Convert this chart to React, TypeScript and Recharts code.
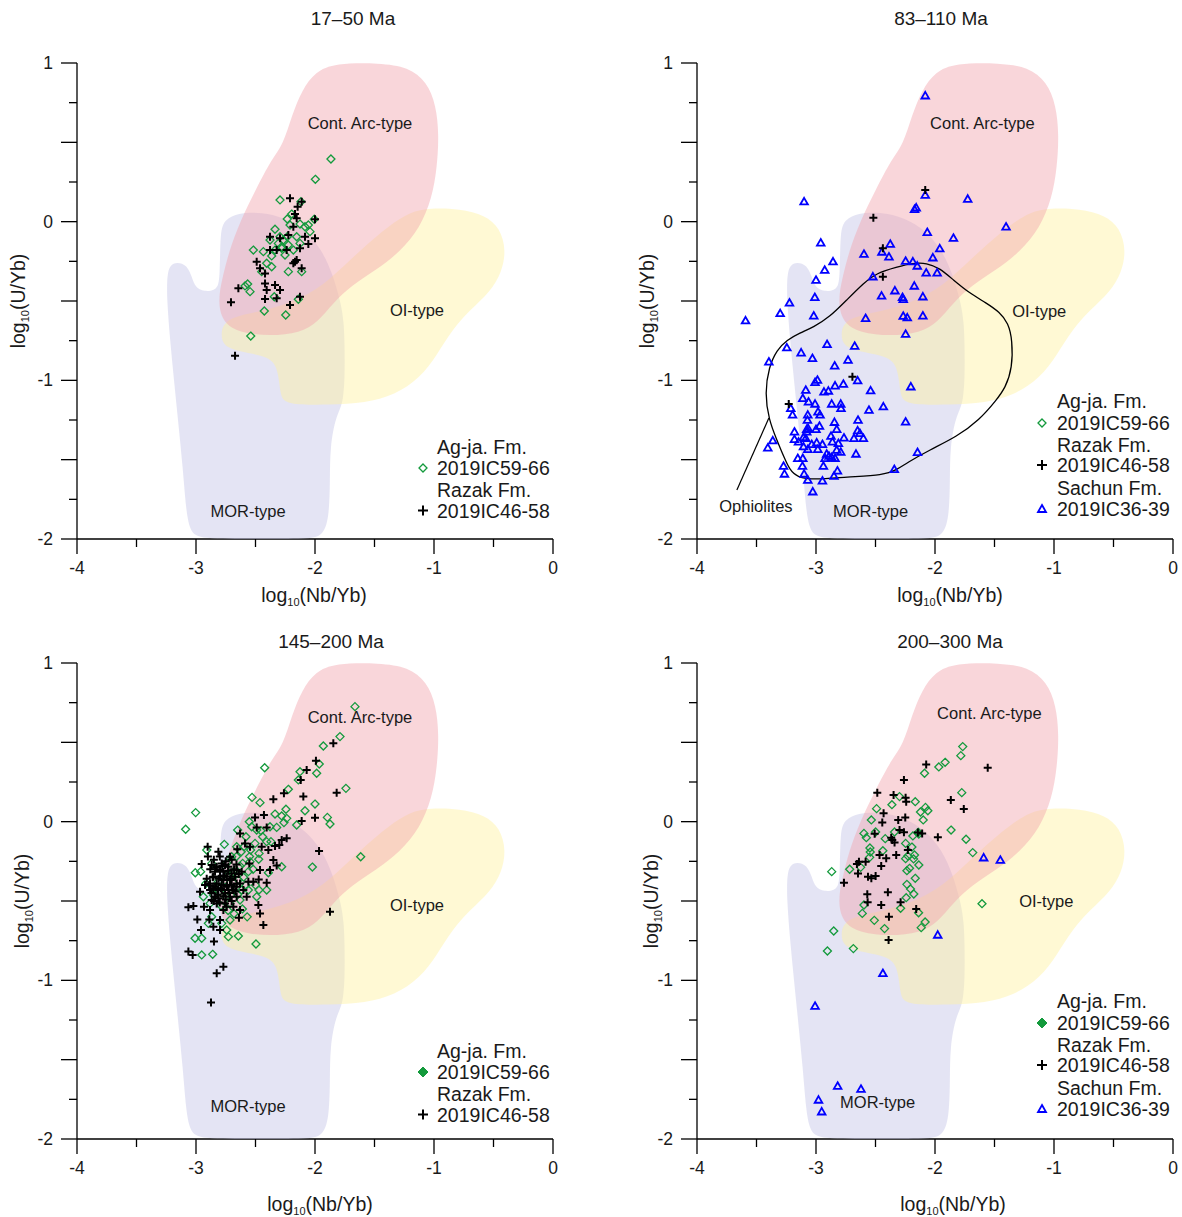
import React from 'react';
import { ScatterChart, Scatter, XAxis, YAxis } from 'recharts';

type P = [number, number];

// ---------- tick values ----------
const X_TICKS = [-4, -3.5, -3, -2.5, -2, -1.5, -1, -0.5, 0];
const Y_TICKS = [-2, -1.75, -1.5, -1.25, -1, -0.75, -0.5, -0.25, 0, 0.25, 0.5, 0.75, 1];

// ---------- discrimination fields (log Nb/Yb, log U/Yb) ----------
const MOR_FIELD: P[] = [
  [-3.16, -0.254], [-3.076, -0.273], [-3.034, -0.349], [-3.008, -0.412], [-2.933, -0.443], [-2.824, -0.431],
  [-2.798, -0.368], [-2.798, -0.052], [-2.756, 0.011], [-2.655, 0.055], [-2.445, 0.061], [-2.252, 0.023],
  [-2.084, -0.052], [-1.941, -0.179], [-1.849, -0.336], [-1.79, -0.494], [-1.756, -0.62], [-1.748, -0.872],
  [-1.756, -1.143], [-1.824, -1.22], [-1.874, -1.42], [-1.874, -1.628], [-1.882, -1.88], [-1.941, -1.98],
  [-2.042, -2.0], [-2.5, -2.0], [-2.966, -2.0], [-3.05, -1.955], [-3.084, -1.817], [-3.109, -1.565],
  [-3.151, -1.25], [-3.185, -0.998], [-3.218, -0.746], [-3.244, -0.494], [-3.244, -0.336], [-3.218, -0.273],
];
const OI_FIELD: P[] = [
  [-1.034, 0.086], [-0.782, 0.08], [-0.571, 0.042], [-0.445, -0.04], [-0.395, -0.179], [-0.429, -0.317],
  [-0.529, -0.443], [-0.697, -0.557], [-0.849, -0.683], [-0.975, -0.84], [-1.118, -0.985], [-1.328, -1.092],
  [-1.58, -1.143], [-1.874, -1.155], [-2.252, -1.155], [-2.294, -1.092], [-2.311, -0.903], [-2.42, -0.84],
  [-2.756, -0.809], [-2.798, -0.714], [-2.756, -0.607], [-2.462, -0.569], [-2.126, -0.494], [-1.874, -0.368],
  [-1.622, -0.179], [-1.37, -0.021], [-1.202, 0.061],
];
const ARC_FIELD: P[] = [
  [-1.832, 1.0], [-1.454, 1.0], [-1.218, 0.975], [-1.059, 0.88], [-0.983, 0.735], [-0.958, 0.546],
  [-0.975, 0.338], [-1.017, 0.149], [-1.118, -0.04], [-1.286, -0.191], [-1.487, -0.305], [-1.689, -0.399],
  [-1.849, -0.513], [-1.975, -0.632], [-2.126, -0.702], [-2.378, -0.721], [-2.63, -0.702], [-2.782, -0.632],
  [-2.815, -0.494], [-2.78, -0.36], [-2.72, -0.18], [-2.63, 0.0], [-2.5, 0.2], [-2.36, 0.4],
  [-2.269, 0.483], [-2.193, 0.672], [-2.109, 0.83], [-2.0, 0.943],
];
const OPHIOLITE_FIELD: P[] = [
  [-3.396, -1.25], [-3.43, -1.08], [-3.396, -0.916], [-3.329, -0.809], [-3.245, -0.746], [-3.136, -0.702],
  [-3.019, -0.664], [-2.885, -0.601], [-2.742, -0.494], [-2.6, -0.387], [-2.491, -0.324], [-2.323, -0.286],
  [-2.18, -0.26], [-2.071, -0.26], [-1.962, -0.292], [-1.845, -0.368], [-1.711, -0.45], [-1.568, -0.513],
  [-1.459, -0.569], [-1.384, -0.639], [-1.35, -0.746], [-1.35, -0.922], [-1.409, -1.048], [-1.484, -1.124],
  [-1.627, -1.25], [-1.82, -1.357], [-2.046, -1.439], [-2.239, -1.521], [-2.323, -1.565], [-2.432, -1.597],
  [-2.742, -1.609], [-3.019, -1.628], [-3.161, -1.609], [-3.22, -1.565], [-3.27, -1.483], [-3.329, -1.376],
];
const OPHIOLITE_LEADER: P[] = [[-3.665, -1.691], [-3.396, -1.237]];

// ---------- panel 1 : 17-50 Ma ----------
const P1_AGJA: P[] = [
  [-1.866, 0.395], [-1.997, 0.267], [-2.294, 0.137], [-2.118, 0.126], [-2.196, 0.048], [-2.233, 0.017],
  [-2.126, -0.015], [-2.056, -0.021], [-2.006, 0.015], [-2.042, -0.063], [-2.336, -0.048], [-2.378, -0.116],
  [-2.294, -0.095], [-2.266, -0.116], [-2.233, -0.095], [-2.154, -0.095], [-2.224, -0.147], [-2.28, -0.168],
  [-2.336, -0.179], [-2.518, -0.179], [-2.364, -0.216], [-2.252, -0.21], [-2.182, -0.179], [-2.126, -0.137],
  [-2.434, -0.189], [-2.406, -0.262], [-2.364, -0.284], [-2.448, -0.315], [-2.224, -0.315], [-2.112, -0.315],
  [-2.588, -0.405], [-2.566, -0.393], [-2.546, -0.441], [-2.342, -0.473], [-2.14, -0.489], [-2.426, -0.563],
  [-2.246, -0.588], [-2.54, -0.721], [-2.28, -0.158], [-2.308, -0.137], [-2.21, -0.021], [-2.084, -0.032],
];
const P1_RAZAK: P[] = [
  [-2.21, 0.147], [-2.112, 0.126], [-2.146, 0.094], [-2.168, 0.048], [-2.154, 0.021], [-2.182, -0.032],
  [-2.0, 0.015], [-2.084, -0.095], [-2.0, -0.105], [-2.056, -0.141], [-2.378, -0.095], [-2.224, -0.084],
  [-2.294, -0.105], [-2.126, -0.168], [-2.378, -0.179], [-2.238, -0.179], [-2.322, -0.179], [-2.49, -0.252],
  [-2.462, -0.294], [-2.154, -0.242], [-2.168, -0.252], [-2.112, -0.294], [-2.42, -0.326], [-2.42, -0.389],
  [-2.336, -0.399], [-2.294, -0.431], [-2.406, -0.431], [-2.644, -0.42], [-2.706, -0.508], [-2.42, -0.487],
  [-2.322, -0.483], [-2.21, -0.525], [-2.126, -0.473], [-2.672, -0.845], [-2.182, -0.262],
];

// ---------- panel 2 : 83-110 Ma ----------
const P2_RAZAK: P[] = [
  [-2.082, 0.2], [-2.518, 0.025], [-2.438, -0.168], [-2.438, -0.347], [-2.694, -0.977], [-3.229, -1.149],
];
const P2_SACHUN: P[] = [
  [-2.082, 0.794], [-3.1, 0.126], [-2.082, 0.168], [-1.725, 0.143], [-2.172, 0.078], [-2.158, 0.088],
  [-1.403, -0.032], [-2.96, -0.133], [-2.065, -0.067], [-1.845, -0.103], [-2.376, -0.141], [-2.597, -0.204],
  [-2.446, -0.191], [-2.387, -0.221], [-1.96, -0.17], [-2.018, -0.227], [-2.857, -0.252], [-2.247, -0.248],
  [-2.186, -0.252], [-2.149, -0.279], [-2.927, -0.305], [-2.074, -0.322], [-1.982, -0.322], [-2.522, -0.347],
  [-3.0, -0.368], [-2.174, -0.405], [-2.337, -0.435], [-2.273, -0.477], [-2.267, -0.489], [-2.102, -0.473],
  [-2.449, -0.468], [-3.01, -0.477], [-3.223, -0.511], [-3.301, -0.578], [-3.019, -0.593], [-3.592, -0.624],
  [-2.583, -0.609], [-2.267, -0.595], [-2.233, -0.605], [-2.102, -0.593], [-2.247, -0.708], [-2.907, -0.773],
  [-2.675, -0.784], [-3.245, -0.794], [-3.125, -0.826], [-3.03, -0.861], [-2.731, -0.872], [-3.396, -0.883],
  [-2.843, -0.908], [-2.65, -1.002], [-2.988, -0.998], [-3.008, -1.012], [-2.77, -1.023], [-2.84, -1.034],
  [-2.203, -1.04], [-3.086, -1.061], [-2.896, -1.067], [-2.933, -1.073], [-2.541, -1.065], [-3.111, -1.113],
  [-3.063, -1.135], [-3.008, -1.149], [-2.868, -1.149], [-2.792, -1.149], [-2.79, -1.176], [-3.212, -1.176],
  [-3.197, -1.218], [-2.555, -1.187], [-2.434, -1.166], [-2.983, -1.198], [-2.966, -1.218], [-3.069, -1.218],
  [-3.072, -1.25], [-2.845, -1.264], [-2.647, -1.25], [-2.247, -1.261], [-2.971, -1.288], [-3.067, -1.302],
  [-3.078, -1.309], [-2.826, -1.309], [-3.181, -1.324], [-3.078, -1.324], [-3.0, -1.309], [-2.65, -1.317],
  [-2.631, -1.334], [-2.602, -1.365], [-2.874, -1.351], [-3.181, -1.372], [-3.105, -1.359], [-3.086, -1.365],
  [-2.765, -1.362], [-2.681, -1.365], [-3.363, -1.38], [-3.147, -1.387], [-2.994, -1.393], [-3.036, -1.403],
  [-2.946, -1.403], [-2.862, -1.387], [-2.812, -1.397], [-3.405, -1.425], [-3.105, -1.418], [-3.069, -1.435],
  [-2.985, -1.435], [-2.826, -1.439], [-2.792, -1.452], [-2.91, -1.464], [-2.891, -1.477], [-2.664, -1.464],
  [-2.147, -1.454], [-2.868, -1.485], [-2.924, -1.491], [-2.84, -1.491], [-3.153, -1.491], [-3.111, -1.491],
  [-3.273, -1.54], [-3.114, -1.54], [-2.938, -1.54], [-2.342, -1.561], [-2.82, -1.57], [-3.265, -1.59],
  [-3.1, -1.59], [-2.849, -1.603], [-3.069, -1.628], [-2.946, -1.633], [-3.027, -1.702],
];

// ---------- panel 3 : 145-200 Ma ----------
const P3_AGJA: P[] = [
  [-1.664, 0.725], [-1.79, 0.536], [-1.93, 0.477], [-1.964, 0.363], [-1.986, 0.305], [-2.126, 0.315],
  [-2.14, 0.263], [-2.423, 0.34], [-1.74, 0.21], [-2.224, 0.204], [-2.529, 0.153], [-2.462, 0.12],
  [-2.0, 0.111], [-2.084, 0.069], [-2.244, 0.078], [-2.238, 0.021], [-2.28, 0.036], [-2.336, 0.048],
  [-2.154, -0.021], [-2.261, -0.006], [-1.896, 0.027], [-1.874, -0.015], [-2.378, -0.032], [-2.532, -0.032],
  [-2.49, -0.053], [-2.552, 0.0], [-2.65, -0.053], [-2.762, -0.143], [-3.003, 0.057], [-3.087, -0.048],
  [-2.454, -0.057], [-2.44, -0.095], [-2.322, -0.036], [-2.406, -0.126], [-2.504, -0.137], [-2.541, -0.179],
  [-2.597, -0.158], [-1.616, -0.221], [-2.022, -0.286], [-2.28, -0.284], [-2.37, -0.126], [-2.473, -0.237],
  [-2.392, -0.322], [-2.406, -0.431], [-2.471, -0.431], [-2.49, -0.473], [-2.546, -0.252], [-2.608, -0.263],
  [-2.56, -0.315], [-2.644, -0.368], [-2.686, -0.315], [-2.616, -0.431], [-2.56, -0.431], [-2.63, -0.494],
  [-2.714, -0.515], [-2.748, -0.473], [-2.804, -0.441], [-2.854, -0.462], [-2.882, -0.515], [-2.938, -0.473],
  [-2.868, -0.599], [-2.896, -0.641], [-2.784, -0.641], [-2.714, -0.62], [-2.742, -0.683], [-2.728, -0.725],
  [-2.644, -0.721], [-2.952, -0.735], [-3.008, -0.735], [-2.952, -0.84], [-2.86, -0.836], [-2.496, -0.771],
  [-2.961, -0.315], [-3.006, -0.322], [-2.868, -0.263], [-2.91, -0.179], [-2.748, -0.305], [-2.812, -0.378],
  [-2.916, -0.389], [-2.658, -0.158], [-2.58, -0.095], [-2.7, -0.221],
  [-2.74, -0.26], [-2.69, -0.33], [-2.63, -0.28], [-2.66, -0.22], [-2.6, -0.35], [-2.71, -0.41],
  [-2.76, -0.37], [-2.65, -0.46], [-2.58, -0.4], [-2.62, -0.19], [-2.55, -0.22], [-2.68, -0.58],
  [-2.73, -0.56], [-2.79, -0.53], [-2.61, -0.55], [-2.52, -0.3], [-2.5, -0.4], [-2.47, -0.2], [-2.57, -0.6],
];
const P3_RAZAK: P[] = [
  [-1.846, 0.494], [-1.992, 0.384], [-2.07, 0.326], [-2.12, 0.263], [-2.098, 0.158], [-1.818, 0.183],
  [-2.261, 0.179], [-2.35, 0.141], [-2.0, 0.025], [-2.112, 0.004], [-2.429, 0.042], [-2.504, 0.027],
  [-2.406, -0.036], [-2.49, -0.036], [-2.63, -0.074], [-2.28, -0.116], [-2.238, -0.105], [-2.3, -0.147],
  [-2.336, -0.153], [-2.392, -0.179], [-2.448, -0.158], [-2.546, -0.158], [-2.588, -0.137], [-2.653, -0.174],
  [-1.966, -0.185], [-2.35, -0.242], [-2.378, -0.305], [-2.322, -0.277], [-2.462, -0.305], [-2.473, -0.364],
  [-2.518, -0.378], [-2.406, -0.385], [-2.56, -0.378], [-2.552, -0.263], [-2.902, -0.158], [-2.812, -0.189],
  [-2.714, -0.221], [-2.784, -0.263], [-2.868, -0.273], [-2.952, -0.267], [-2.616, -0.315], [-2.7, -0.326],
  [-2.798, -0.305], [-2.854, -0.347], [-2.742, -0.347], [-2.882, -0.389], [-2.924, -0.399], [-2.966, -0.441],
  [-2.784, -0.431], [-2.686, -0.431], [-2.658, -0.473], [-2.714, -0.473], [-2.476, -0.525], [-2.462, -0.578],
  [-2.434, -0.651], [-2.63, -0.557], [-2.686, -0.536], [-2.77, -0.557], [-2.826, -0.515], [-2.882, -0.557],
  [-2.933, -0.536], [-3.022, -0.532], [-3.064, -0.54], [-2.989, -0.616], [-2.888, -0.616], [-2.639, -0.605],
  [-2.798, -0.62], [-2.854, -0.662], [-2.958, -0.683], [-2.798, -0.683], [-2.849, -0.756], [-3.064, -0.819],
  [-3.028, -0.84], [-2.77, -0.914], [-2.826, -0.956], [-2.874, -1.139], [-1.874, -0.567], [-2.742, -0.41],
  [-2.812, -0.431], [-2.756, -0.515], [-2.84, -0.473], [-2.77, -0.368], [-2.658, -0.389], [-2.602, -0.431],
  [-2.574, -0.473], [-2.826, -0.284], [-2.77, -0.315], [-2.728, -0.284], [-2.798, -0.347], [-2.7, -0.399],
  [-2.854, -0.42], [-2.756, -0.452], [-2.812, -0.483], [-2.728, -0.431], [-2.784, -0.399], [-2.84, -0.315],
  [-2.714, -0.368], [-2.672, -0.347], [-2.756, -0.273], [-2.882, -0.431], [-2.658, -0.305], [-2.63, -0.389],
  [-2.826, -0.389], [-2.868, -0.494], [-2.742, -0.536],
  [-2.9, -0.22], [-2.85, -0.24], [-2.8, -0.22], [-2.75, -0.25], [-2.7, -0.24], [-2.66, -0.27],
  [-2.88, -0.3], [-2.83, -0.29], [-2.78, -0.28], [-2.73, -0.31], [-2.68, -0.3], [-2.64, -0.33],
  [-2.91, -0.36], [-2.86, -0.35], [-2.81, -0.36], [-2.76, -0.34], [-2.71, -0.36], [-2.66, -0.41],
  [-2.89, -0.4], [-2.84, -0.41], [-2.79, -0.42], [-2.74, -0.4], [-2.69, -0.43], [-2.87, -0.45],
  [-2.82, -0.46], [-2.77, -0.47], [-2.72, -0.45], [-2.67, -0.44], [-2.8, -0.51], [-2.75, -0.49],
  [-2.85, -0.5], [-2.7, -0.5],
];

// ---------- panel 4 : 200-300 Ma ----------
const P4_AGJA: P[] = [
  [-1.767, 0.473], [-1.783, 0.416], [-1.915, 0.374], [-1.968, 0.345], [-2.088, 0.305], [-1.775, 0.183],
  [-2.298, 0.158], [-2.362, 0.107], [-2.491, 0.082], [-2.166, 0.126], [-2.08, 0.09], [-2.06, 0.069],
  [-2.122, 0.061], [-2.099, 0.011], [-2.535, 0.011], [-1.865, -0.053], [-1.739, -0.111], [-2.597, -0.074],
  [-2.577, -0.101], [-2.499, -0.065], [-2.418, -0.107], [-2.34, -0.065], [-2.247, -0.137], [-2.186, -0.09],
  [-2.141, -0.067], [-2.136, -0.078], [-2.194, -0.16], [-2.547, -0.166], [-2.544, -0.191], [-2.438, -0.183],
  [-2.549, -0.225], [-1.683, -0.195], [-2.247, -0.233], [-2.228, -0.216], [-2.172, -0.21], [-2.18, -0.235],
  [-2.214, -0.294], [-2.136, -0.273], [-2.236, -0.309], [-2.625, -0.288], [-2.717, -0.3], [-2.868, -0.315],
  [-2.236, -0.395], [-2.206, -0.424], [-2.178, -0.456], [-2.166, -0.357], [-2.242, -0.479], [-2.597, -0.525],
  [-2.611, -0.578], [-2.289, -0.546], [-2.138, -0.574], [-2.51, -0.622], [-2.424, -0.674], [-2.116, -0.668],
  [-2.083, -0.632], [-1.605, -0.517], [-2.851, -0.689], [-2.904, -0.815], [-2.686, -0.8],
];
const P4_RAZAK: P[] = [
  [-2.074, 0.361], [-1.557, 0.34], [-2.261, 0.263], [-2.485, 0.183], [-2.348, 0.168], [-2.247, 0.151],
  [-2.242, 0.126], [-1.867, 0.137], [-1.758, 0.08], [-2.432, 0.053], [-2.443, -0.006], [-2.309, 0.011],
  [-2.25, 0.027], [-2.507, -0.076], [-2.298, -0.053], [-2.261, -0.067], [-2.368, -0.101], [-2.34, -0.132],
  [-2.108, -0.074], [-1.976, -0.099], [-2.228, -0.179], [-2.326, -0.21], [-2.466, -0.21], [-2.41, -0.231],
  [-2.452, -0.279], [-2.583, -0.252], [-2.639, -0.252], [-2.656, -0.267], [-2.647, -0.326], [-2.563, -0.347],
  [-2.535, -0.357], [-2.499, -0.342], [-2.765, -0.385], [-2.569, -0.458], [-2.396, -0.445], [-2.566, -0.508],
  [-2.452, -0.525], [-2.289, -0.508], [-2.158, -0.55], [-2.387, -0.599], [-2.39, -0.746], [-2.144, -0.069],
  [-2.359, -0.116],
];
const P4_SACHUN: P[] = [
  [-1.591, -0.227], [-1.451, -0.242], [-1.977, -0.714], [-2.438, -0.956], [-3.008, -1.162], [-2.818, -1.666],
  [-2.622, -1.685], [-2.979, -1.754], [-2.952, -1.828],
];

// ---------- field labels ----------
type Lbl = { x: number; y: number; text: string };
const P1_LABELS: Lbl[] = [
  { x: -1.622, y: 0.622, text: 'Cont. Arc-type' }, { x: -1.143, y: -0.557, text: 'OI-type' }, { x: -2.563, y: -1.823, text: 'MOR-type' },
];
const P2_LABELS: Lbl[] = [
  { x: -1.602, y: 0.622, text: 'Cont. Arc-type' }, { x: -1.124, y: -0.563, text: 'OI-type' }, { x: -2.541, y: -1.823, text: 'MOR-type' },
  { x: -3.505, y: -1.792, text: 'Ophiolites' },
];
const P3_LABELS: Lbl[] = [
  { x: -1.622, y: 0.66, text: 'Cont. Arc-type' }, { x: -1.143, y: -0.525, text: 'OI-type' }, { x: -2.563, y: -1.792, text: 'MOR-type' },
];
const P4_LABELS: Lbl[] = [
  { x: -1.543, y: 0.685, text: 'Cont. Arc-type' }, { x: -1.065, y: -0.5, text: 'OI-type' }, { x: -2.482, y: -1.767, text: 'MOR-type' },
];

const FONT = '"Liberation Sans", Arial, Helvetica, sans-serif';
const GREEN = '#139a3c';
const BLUE = '#0000ff';
const W = 560;
const H = 600;

const toPts = (a: P[]) => a.map(([x, y]) => ({ x, y }));

const NoShape = () => <g />;
const Diamond = (p: any) => (
  <path d={`M${p.cx},${p.cy - 4}L${p.cx + 4},${p.cy}L${p.cx},${p.cy + 4}L${p.cx - 4},${p.cy}Z`} fill="none" stroke={GREEN} strokeWidth={1.3} />
);
const Cross = (p: any) => (
  <path d={`M${p.cx - 4},${p.cy}H${p.cx + 4}M${p.cx},${p.cy - 4}V${p.cy + 4}`} stroke="#000" strokeWidth={2} fill="none" />
);
const Triangle = (p: any) => (
  <path d={`M${p.cx},${p.cy - 3.8}L${p.cx + 3.8},${p.cy + 2.8}L${p.cx - 3.8},${p.cy + 2.8}Z`} fill="none" stroke={BLUE} strokeWidth={1.8} />
);
const FieldText = (p: any) => (
  <text x={p.cx} y={p.cy} dy="0.35em" textAnchor="middle" fontSize={16.5} fontFamily={FONT} fill="#1a1a1a">
    {p.payload.text}
  </text>
);

const XTick = (props: any) => {
  const { x, y, payload } = props;
  const v = payload.value as number;
  const major = Number.isInteger(v);
  return (
    <g>
      <line x1={x} y1={y} x2={x} y2={y + (major ? 15 : 8)} stroke="#000" strokeWidth={1.3} />
      {major && (
        <text x={x} y={y + 35} textAnchor="middle" fontSize={17.5} fontFamily={FONT} fill="#1a1a1a">{String(v)}</text>
      )}
    </g>
  );
};
const YTick = (props: any) => {
  const { x, y, payload } = props;
  const v = payload.value as number;
  const isInt = Number.isInteger(v);
  const len = Number.isInteger(v * 2) ? 16 : 8;
  return (
    <g>
      <line x1={x - len} y1={y} x2={x} y2={y} stroke="#000" strokeWidth={1.3} />
      {isInt && (
        <text x={x - 24} y={y + 6} textAnchor="end" fontSize={17.5} fontFamily={FONT} fill="#1a1a1a">{String(v)}</text>
      )}
    </g>
  );
};

type PanelProps = {
  agja: P[]; razak: P[]; sachun: P[]; labels: Lbl[]; ophiolite?: boolean;
};

function Panel({ agja, razak, sachun, labels, ophiolite }: PanelProps) {
  return (
    <ScatterChart width={W} height={H} margin={{ top: 63, right: 7, bottom: 40, left: 57 }}>
      <XAxis type="number" dataKey="x" domain={[-4, 0]} ticks={X_TICKS} interval={0} height={21}
        tickSize={0} tickMargin={0} tickLine={false} tick={<XTick />} axisLine={{ stroke: '#000', strokeWidth: 1.3 }} />
      <YAxis type="number" dataKey="y" domain={[-2, 1]} ticks={Y_TICKS} interval={0} width={20}
        tickSize={0} tickMargin={0} tickLine={false} tick={<YTick />} axisLine={{ stroke: '#000', strokeWidth: 1.3 }} />
      <Scatter data={toPts(MOR_FIELD)} shape={NoShape} line={{ fill: '#c9c9ea', fillOpacity: 0.5, stroke: 'none' }}
        lineType="joint" lineJointType="basisClosed" isAnimationActive={false} legendType="none" />
      <Scatter data={toPts(OI_FIELD)} shape={NoShape} line={{ fill: '#fff1a0', fillOpacity: 0.45, stroke: 'none' }}
        lineType="joint" lineJointType="basisClosed" isAnimationActive={false} legendType="none" />
      <Scatter data={toPts(ARC_FIELD)} shape={NoShape} line={{ fill: '#f2a5ae', fillOpacity: 0.45, stroke: 'none' }}
        lineType="joint" lineJointType="basisClosed" isAnimationActive={false} legendType="none" />
      {ophiolite && (
        <Scatter data={toPts(OPHIOLITE_FIELD)} shape={NoShape} line={{ fill: 'none', stroke: '#000', strokeWidth: 1.3 }}
          lineType="joint" lineJointType="basisClosed" isAnimationActive={false} legendType="none" />
      )}
      {ophiolite && (
        <Scatter data={toPts(OPHIOLITE_LEADER)} shape={NoShape} line={{ fill: 'none', stroke: '#000', strokeWidth: 1.2 }}
          lineType="joint" lineJointType="linear" isAnimationActive={false} legendType="none" />
      )}
      <Scatter data={labels} shape={FieldText} isAnimationActive={false} legendType="none" />
      <Scatter data={toPts(sachun)} shape={Triangle} isAnimationActive={false} />
      <Scatter data={toPts(agja)} shape={Diamond} isAnimationActive={false} />
      <Scatter data={toPts(razak)} shape={Cross} isAnimationActive={false} />
    </ScatterChart>
  );
}

const sub = (base: string, tail: string) => (
  <>
    {base}
    <tspan fontSize={11} dy={4}>10</tspan>
    <tspan dy={-4}>{tail}</tspan>
  </>
);

type LegendItem = { text: string; marker?: 'diamond' | 'filledDiamond' | 'cross' | 'triangle' };

function LegendBlock({ x, mx, ys, items }: { x: number; mx: number; ys: number[]; items: LegendItem[] }) {
  return (
    <g fontFamily={FONT} fontSize={19.5} fill="#1a1a1a">
      {items.map((it, i) => {
        const y = ys[i];
        const cy = y - 7;
        let m: React.ReactNode = null;
        if (it.marker === 'diamond') m = <path d={`M${mx},${cy - 4}L${mx + 4},${cy}L${mx},${cy + 4}L${mx - 4},${cy}Z`} fill="none" stroke={GREEN} strokeWidth={1.3} />;
        if (it.marker === 'filledDiamond') m = <path d={`M${mx},${cy - 5}L${mx + 5},${cy}L${mx},${cy + 5}L${mx - 5},${cy}Z`} fill={GREEN} stroke={GREEN} strokeWidth={1} />;
        if (it.marker === 'cross') m = <path d={`M${mx - 5},${cy}H${mx + 5}M${mx},${cy - 5}V${cy + 5}`} stroke="#000" strokeWidth={2} />;
        if (it.marker === 'triangle') m = <path d={`M${mx},${cy - 4}L${mx + 4},${cy + 3}L${mx - 4},${cy + 3}Z`} fill="none" stroke={BLUE} strokeWidth={1.8} />;
        return (
          <g key={i}>
            {m}
            <text x={x} y={y}>{it.text}</text>
          </g>
        );
      })}
    </g>
  );
}

const LEG2: LegendItem[] = [
  { text: 'Ag-ja. Fm.' }, { text: '2019IC59-66', marker: 'diamond' }, { text: 'Razak Fm.' }, { text: '2019IC46-58', marker: 'cross' },
];
const LEG3: LegendItem[] = [...LEG2, { text: 'Sachun Fm.' }, { text: '2019IC36-39', marker: 'triangle' }];
const LEG2F: LegendItem[] = LEG2.map((d) => (d.marker === 'diamond' ? { ...d, marker: 'filledDiamond' as const } : d));
const LEG3F: LegendItem[] = LEG3.map((d) => (d.marker === 'diamond' ? { ...d, marker: 'filledDiamond' as const } : d));

export default function App() {
  const txt = { fontFamily: FONT, fill: '#1a1a1a' };
  return (
    <div style={{ position: 'absolute', left: 0, top: 0, width: 1182, height: 1217, background: '#fff', overflow: 'hidden' }}>
      <div style={{ position: 'absolute', left: 0, top: 0 }}>
        <Panel agja={P1_AGJA} razak={P1_RAZAK} sachun={[]} labels={P1_LABELS} />
      </div>
      <div style={{ position: 'absolute', left: 620, top: 0 }}>
        <Panel agja={[]} razak={P2_RAZAK} sachun={P2_SACHUN} labels={P2_LABELS} ophiolite />
      </div>
      <div style={{ position: 'absolute', left: 0, top: 600 }}>
        <Panel agja={P3_AGJA} razak={P3_RAZAK} sachun={[]} labels={P3_LABELS} />
      </div>
      <div style={{ position: 'absolute', left: 620, top: 600 }}>
        <Panel agja={P4_AGJA} razak={P4_RAZAK} sachun={P4_SACHUN} labels={P4_LABELS} />
      </div>
      <svg width={1182} height={1217} style={{ position: 'absolute', left: 0, top: 0, pointerEvents: 'none' }}>
        <g {...txt} fontSize={19} textAnchor="middle">
          <text x={353} y={25}>17–50 Ma</text>
          <text x={941} y={25}>83–110 Ma</text>
          <text x={331} y={648}>145–200 Ma</text>
          <text x={950} y={648}>200–300 Ma</text>
        </g>
        <g {...txt} fontSize={19.5} textAnchor="middle">
          <text x={314} y={602}>{sub('log', '(Nb/Yb)')}</text>
          <text x={950} y={602}>{sub('log', '(Nb/Yb)')}</text>
          <text x={320} y={1211}>{sub('log', '(Nb/Yb)')}</text>
          <text x={953} y={1211}>{sub('log', '(Nb/Yb)')}</text>
          <text x={25} y={301} transform="rotate(-90 25 301)">{sub('log', '(U/Yb)')}</text>
          <text x={654} y={301} transform="rotate(-90 654 301)">{sub('log', '(U/Yb)')}</text>
          <text x={29} y={901} transform="rotate(-90 29 901)">{sub('log', '(U/Yb)')}</text>
          <text x={658} y={901} transform="rotate(-90 658 901)">{sub('log', '(U/Yb)')}</text>
        </g>
        <LegendBlock x={437} mx={423} ys={[454, 475, 497, 517.5]} items={LEG2} />
        <LegendBlock x={1057} mx={1042} ys={[408, 430, 451.5, 472, 495, 516]} items={LEG3} />
        <LegendBlock x={437} mx={423} ys={[1058, 1079, 1101, 1121.5]} items={LEG2F} />
        <LegendBlock x={1057} mx={1042} ys={[1008, 1030, 1051.5, 1072, 1095, 1116]} items={LEG3F} />
      </svg>
    </div>
  );
}
